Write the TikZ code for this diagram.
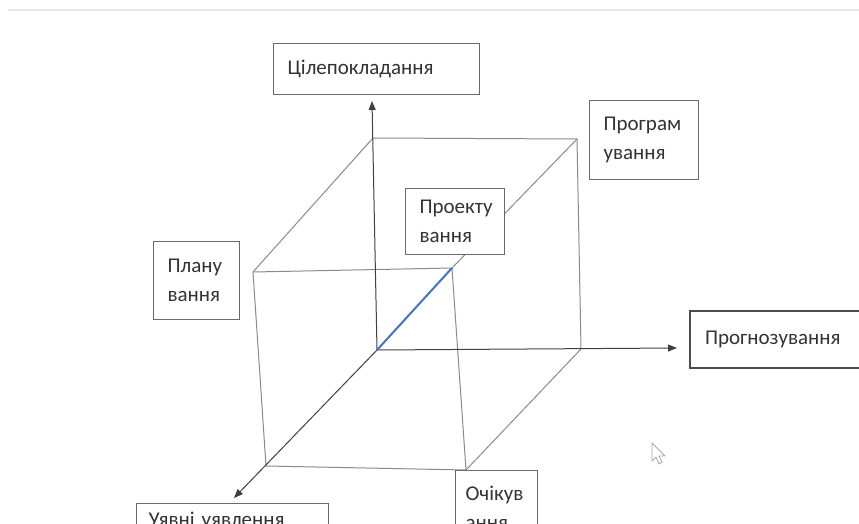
\documentclass[tikz,border=0pt]{standalone}
\usepackage{fontspec}
\setmainfont{Carlito}
\usetikzlibrary{arrows.meta}
\definecolor{edgegray}{HTML}{8A8A8A}
\definecolor{boxgray}{HTML}{6A6A6A}
\definecolor{axisblue}{HTML}{4472C4}
\tikzset{
  edge/.style={draw=edgegray, line width=1pt},
  axis/.style={draw=black!75, line width=1pt, -{Triangle[length=9pt,width=7pt]}},
  box/.style={draw=boxgray, fill=white, line width=1.1pt, inner xsep=14pt, inner ysep=0pt,
    align=left, anchor=north west, font=\fontsize{21}{29}\selectfont, text=black!80},
}
\begin{document}
\begin{tikzpicture}[x=1pt,y=-1pt]
\useasboundingbox (0,0) rectangle (859,524);
\clip (0,0) rectangle (859,524);
% faint top line
\draw[gray!18, line width=1.5pt] (8,10) -- (859,10);
% cube corners
\coordinate (O) at (377,350);
\coordinate (BTL) at (373,138);
\coordinate (BTR) at (577,139);
\coordinate (BBR) at (581,349);
\coordinate (FTL) at (253,272);
\coordinate (FTR) at (452,268);
\coordinate (FBL) at (266,466);
\coordinate (FBR) at (466,470);
\coordinate (Ytip) at (372,101);
\coordinate (Xtip) at (677,348);
\coordinate (Ztip) at (234,498);
% edges
\draw[edge] (BTL) -- (BTR);
\draw[edge] (BTR) -- (BBR);
\draw[edge] (BTL) -- (FTL);
\draw[edge] (FTL) -- (FTR);
\draw[edge] (FTR) -- (BTR);
\draw[edge] (FTL) -- (FBL);
\draw[edge] (FTR) -- (FBR);
\draw[edge] (FBL) -- (FBR);
\draw[edge] (BBR) -- (FBR);
% axes
\draw[axis] (O) -- (Ytip);
\draw[axis] (O) -- (Xtip);
\draw[axis] (O) -- (Ztip);
\draw[draw=axisblue, line width=2pt] (O) -- (FTR);
% boxes
\node[box, text width=178pt, minimum height=51pt] (goal) at (273,43) {Цілепокладання};
\node[box, text width=58pt, minimum height=78pt] (plan) at (153,241) {Плану\\вання};
\node[box, text width=71pt, minimum height=66pt] (proj) at (405,188) {Проекту\\вання};
\node[box, text width=81pt, minimum height=79pt] (prog) at (589,100) {Програм\\ування};
\node[box, text width=153pt, minimum height=57pt, line width=2pt, draw=black!70, inner xsep=15pt] (fore) at (689,310) {Прогнозування};
\node[box, text width=62pt, minimum height=75pt, inner xsep=10pt] (expect) at (455,470) {Очікув\\ання};
\node[box, text width=168pt, minimum height=34pt, inner xsep=12pt] (idea) at (136,503) {Уявні уявлення};
% mouse pointer
\draw[gray!70, line width=0.8pt, line join=round]
  (652,443) -- (652,461) -- (656,457) -- (659,464) -- (662,462) -- (659,456) -- (665,456) -- cycle;
\end{tikzpicture}
\end{document}
